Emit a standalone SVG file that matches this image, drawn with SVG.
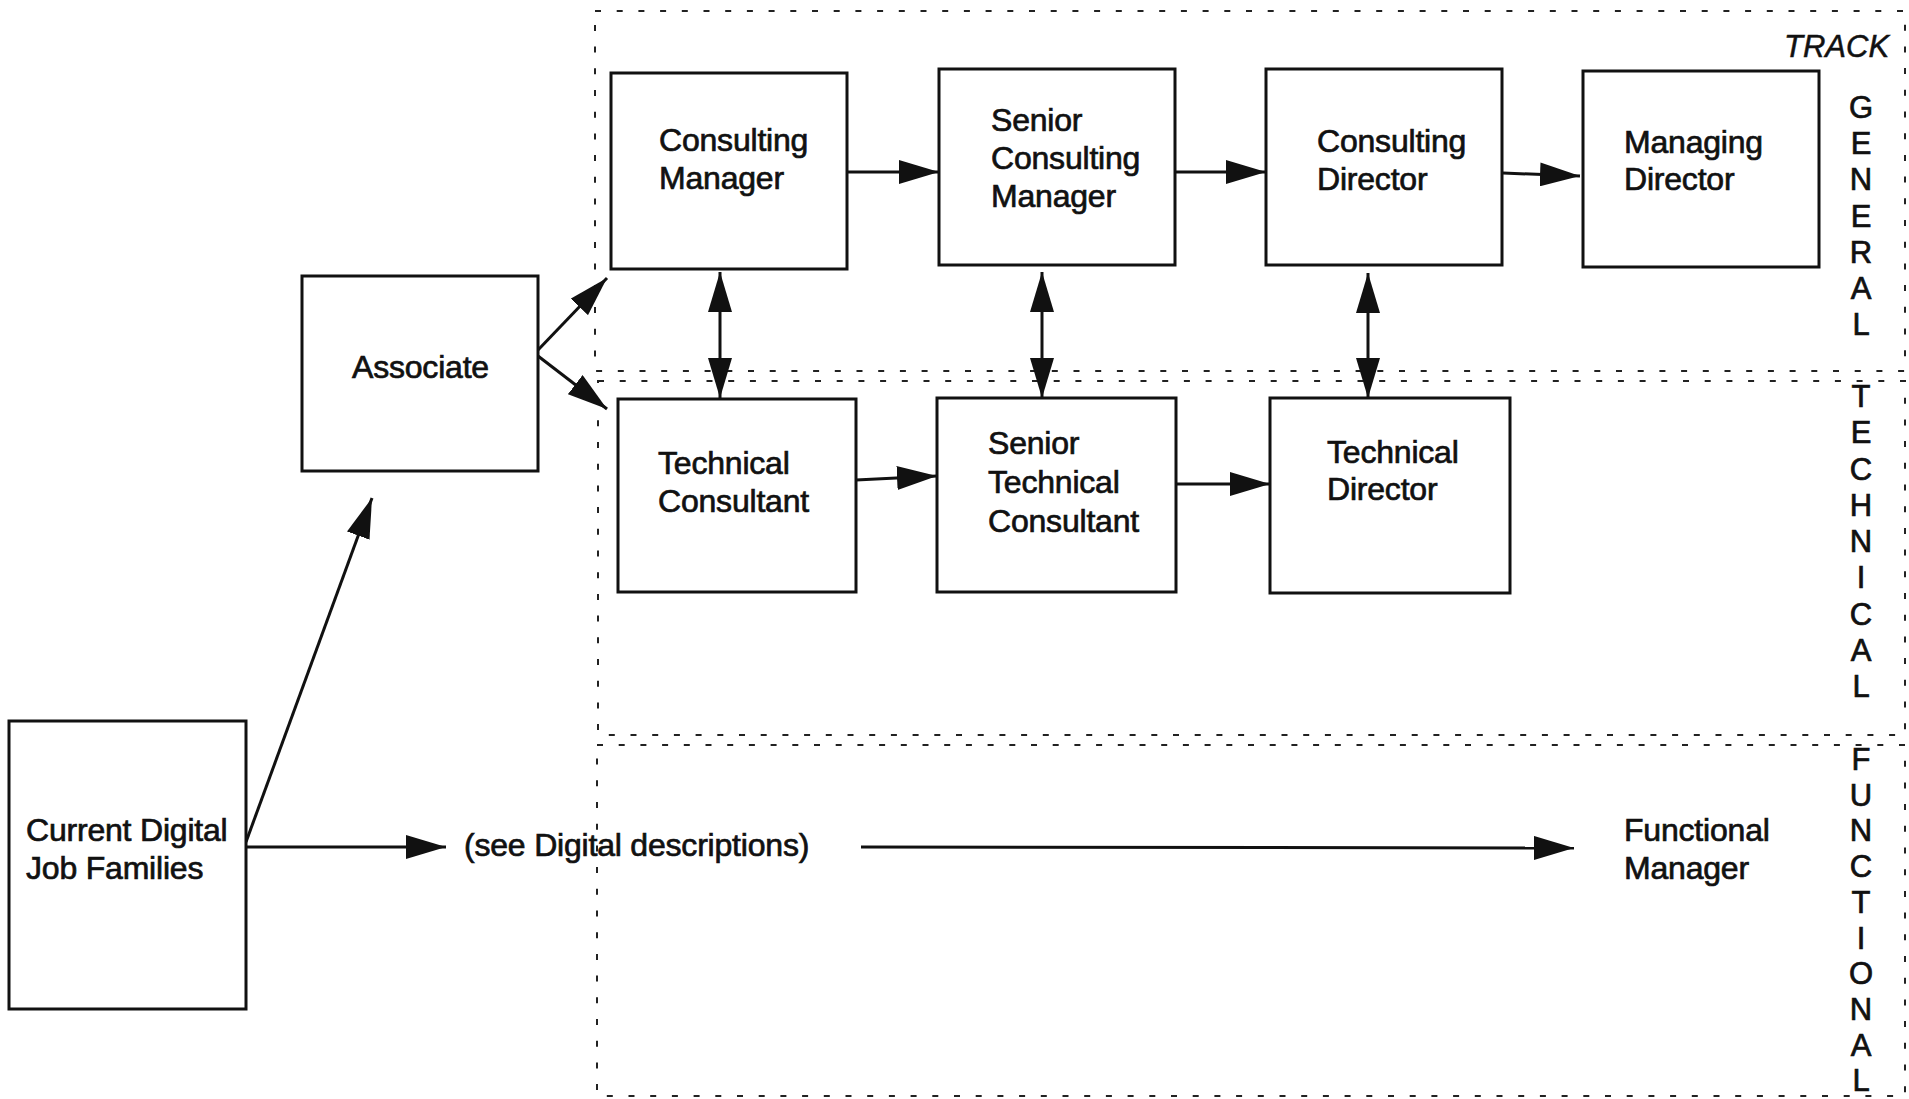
<svg xmlns="http://www.w3.org/2000/svg" width="1909" height="1099" viewBox="0 0 1909 1099">
  <style>
    .box { fill: #ffffff; stroke: #111111; stroke-width: 3; }
    .lbl { font-family: "Liberation Sans", Arial, sans-serif; font-size: 32px; fill: #111111; stroke: #111111; stroke-width: 0.7; letter-spacing: -0.2px; }
    .track { font-family: "Liberation Sans", Arial, sans-serif; font-size: 31px; font-style: italic; fill: #111111; stroke: #111111; stroke-width: 0.5; }
    .vert { font-family: "Liberation Sans", Arial, sans-serif; font-size: 31px; fill: #111111; stroke: #111111; stroke-width: 0.7; text-anchor: middle; }
    .zone { fill: none; stroke: #222222; stroke-width: 2; stroke-dasharray: 6 15.7; }
    .conn { fill: none; stroke: #111111; stroke-width: 3; }
    .one { marker-end: url(#head); }
    .two { marker-start: url(#head); marker-end: url(#head); }
  </style>
  <defs>
    <marker id="head" viewBox="0 0 40 24" refX="40" refY="12" markerWidth="40" markerHeight="24" markerUnits="userSpaceOnUse" orient="auto-start-reverse">
      <path d="M0,0 L40,12 L0,24 Z" fill="#111111"/>
    </marker>
  </defs>

  <rect width="1909" height="1099" fill="#ffffff"/>

  <!-- career track bands -->
  <g id="tracks">
    <rect class="zone" x="595" y="11" width="1310" height="360"/>
    <rect class="zone" x="598" y="381" width="1307" height="354"/>
    <rect class="zone" x="597" y="745" width="1308" height="351"/>
    <text class="track" x="1784" y="57">TRACK</text>
    <g id="label-general">
      <text class="vert" x="1861" y="118">G</text>
      <text class="vert" x="1861" y="154">E</text>
      <text class="vert" x="1861" y="190">N</text>
      <text class="vert" x="1861" y="227">E</text>
      <text class="vert" x="1861" y="263">R</text>
      <text class="vert" x="1861" y="299">A</text>
      <text class="vert" x="1861" y="335">L</text>
    </g>
    <g id="label-technical">
      <text class="vert" x="1861" y="407">T</text>
      <text class="vert" x="1861" y="443">E</text>
      <text class="vert" x="1861" y="480">C</text>
      <text class="vert" x="1861" y="516">H</text>
      <text class="vert" x="1861" y="552">N</text>
      <text class="vert" x="1861" y="588">I</text>
      <text class="vert" x="1861" y="625">C</text>
      <text class="vert" x="1861" y="661">A</text>
      <text class="vert" x="1861" y="697">L</text>
    </g>
    <g id="label-functional">
      <text class="vert" x="1861" y="770">F</text>
      <text class="vert" x="1861" y="806">U</text>
      <text class="vert" x="1861" y="841">N</text>
      <text class="vert" x="1861" y="877">C</text>
      <text class="vert" x="1861" y="913">T</text>
      <text class="vert" x="1861" y="949">I</text>
      <text class="vert" x="1861" y="984">O</text>
      <text class="vert" x="1861" y="1020">N</text>
      <text class="vert" x="1861" y="1056">A</text>
      <text class="vert" x="1861" y="1091">L</text>
    </g>
  </g>

  <!-- connectors -->
  <g id="connectors">
    <line class="conn one" x1="847" y1="172" x2="939" y2="172"/>
    <line class="conn one" x1="1175" y1="172" x2="1266" y2="172"/>
    <line class="conn one" x1="1503" y1="173" x2="1580" y2="176"/>
    <line class="conn one" x1="856" y1="480" x2="937" y2="476"/>
    <line class="conn one" x1="1176" y1="484" x2="1270" y2="484"/>
    <line class="conn one" x1="538" y1="350" x2="607" y2="278"/>
    <line class="conn one" x1="538" y1="356" x2="607" y2="409"/>
    <line class="conn one" x1="246" y1="842" x2="372" y2="498"/>
    <line class="conn one" x1="246" y1="847" x2="446" y2="847"/>
    <line class="conn one" x1="861" y1="847" x2="1574" y2="848"/>
    <line class="conn two" x1="720" y1="272" x2="720" y2="398"/>
    <line class="conn two" x1="1042" y1="272" x2="1042" y2="398"/>
    <line class="conn two" x1="1368" y1="273" x2="1368" y2="398"/>
  </g>

  <!-- job roles -->
  <g id="consulting-manager">
    <rect class="box" x="611" y="73" width="236" height="196"/>
    <text class="lbl" x="659" y="151">Consulting</text>
    <text class="lbl" x="659" y="189">Manager</text>
  </g>
  <g id="senior-consulting-manager">
    <rect class="box" x="939" y="69" width="236" height="196"/>
    <text class="lbl" x="991" y="131">Senior</text>
    <text class="lbl" x="991" y="169">Consulting</text>
    <text class="lbl" x="991" y="207">Manager</text>
  </g>
  <g id="consulting-director">
    <rect class="box" x="1266" y="69" width="236" height="196"/>
    <text class="lbl" x="1317" y="152">Consulting</text>
    <text class="lbl" x="1317" y="190">Director</text>
  </g>
  <g id="managing-director">
    <rect class="box" x="1583" y="71" width="236" height="196"/>
    <text class="lbl" x="1624" y="153">Managing</text>
    <text class="lbl" x="1624" y="190">Director</text>
  </g>
  <g id="associate">
    <rect class="box" x="302" y="276" width="236" height="195"/>
    <text class="lbl" x="352" y="378">Associate</text>
  </g>
  <g id="technical-consultant">
    <rect class="box" x="618" y="399" width="238" height="193"/>
    <text class="lbl" x="658" y="474">Technical</text>
    <text class="lbl" x="658" y="512">Consultant</text>
  </g>
  <g id="senior-technical-consultant">
    <rect class="box" x="937" y="398" width="239" height="194"/>
    <text class="lbl" x="988" y="454">Senior</text>
    <text class="lbl" x="988" y="493">Technical</text>
    <text class="lbl" x="988" y="532">Consultant</text>
  </g>
  <g id="technical-director">
    <rect class="box" x="1270" y="398" width="240" height="195"/>
    <text class="lbl" x="1327" y="463">Technical</text>
    <text class="lbl" x="1327" y="500">Director</text>
  </g>
  <g id="current-digital-job-families">
    <rect class="box" x="9" y="721" width="237" height="288"/>
    <text class="lbl" x="26" y="841">Current Digital</text>
    <text class="lbl" x="26" y="879">Job Families</text>
  </g>
  <g id="see-digital-descriptions">
    <text class="lbl" x="464" y="856">(see Digital descriptions)</text>
  </g>
  <g id="functional-manager">
    <text class="lbl" x="1624" y="841">Functional</text>
    <text class="lbl" x="1624" y="879">Manager</text>
  </g>
</svg>
